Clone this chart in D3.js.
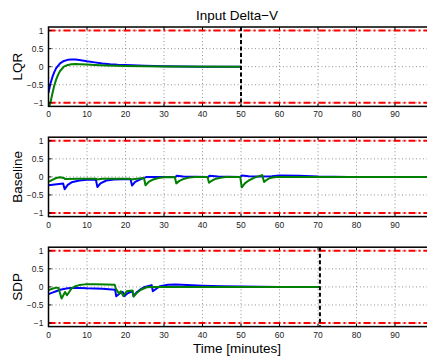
<!DOCTYPE html>
<html><head><meta charset="utf-8">
<script src="https://cdn.jsdelivr.net/npm/d3@7"></script>
<style>body{margin:0;background:#fff}svg{display:block;font-family:"Liberation Sans",Arial,sans-serif}</style>
</head><body>
<script>
// ---- data ----
const panelNames = ["LQR", "Baseline", "SDP"];
const xTicks = [0,10,20,30,40,50,60,70,80,90];
const yTicks = [-1,-0.5,0,0.5,1];
const yTickLabels = ["\u22121","\u22120.5","0","0.5","1"];
const limitValues = [-1, 1];
const endTimes = [50, null, 70.5];

const lqrBlueT = [0,0.5,1,1.5,2,3,4,5,6,7,8,10,12,14,16,18,20,25,30,35,40,50];
const lqrBlueV = [-0.72,-0.47,-0.29,-0.15,-0.04,0.09,0.16,0.19,0.2,0.2,0.185,0.15,0.12,0.09,0.07,0.055,0.045,0.025,0.012,0.005,0,0];
const lqrGreenT = [0,0.5,1,1.5,2,2.5,3,4,5,6,7,8,10,12,15,20,25,30,50];
const lqrGreenV = [-1.15,-1.0,-0.75,-0.52,-0.35,-0.22,-0.12,0.0,0.05,0.07,0.075,0.07,0.06,0.05,0.035,0.02,0.01,0.005,0];

const baseBlueT = [0,3.8,4.2,5,6,8,10,12.3,12.7,13.5,15,17,21.3,21.7,22.5,24,25.5,30,33,33.3,35,41.5,41.8,44,49.8,50.2,52,55,58,60,65,70,78,100];
const baseBlueV = [-0.23,-0.18,-0.34,-0.22,-0.15,-0.1,-0.08,-0.07,-0.28,-0.18,-0.1,-0.07,-0.06,-0.24,-0.14,-0.06,0,0,0,0.03,0.01,0,0.03,0.01,0,0.04,0.02,0.01,0.02,0.04,0.03,0.01,0,0];
const baseGreenT = [0,1,2,3,4,4.3,8,12.3,12.6,14,21,21.5,23,24.8,25.2,26,27,28.5,30,32.8,33.2,34,35,36.5,38,41.3,41.7,42.5,43.5,45,46,49.8,50.2,51,52,53.5,55.5,56,56.7,57.5,59,100];
const baseGreenV = [-0.14,-0.08,-0.03,-0.01,-0.03,-0.06,-0.05,-0.05,-0.07,-0.05,-0.05,-0.07,-0.05,-0.03,-0.23,-0.14,-0.08,-0.03,-0.01,0,-0.18,-0.11,-0.06,-0.02,0,0,-0.16,-0.1,-0.05,-0.02,0,0,-0.29,-0.18,-0.1,-0.02,0.05,-0.14,-0.08,-0.03,0,0];

const sdpBlueT = [0,1,2,3,4,5,6,8,10,14,17.3,17.6,18.5,19.3,19.6,20.5,21.8,22.1,23,24,25,26.8,27.1,28,29,31,33,36,40,45,50,60,70.5];
const sdpBlueV = [-0.2,-0.16,-0.12,-0.08,-0.06,-0.04,-0.03,-0.03,-0.04,-0.05,-0.08,-0.26,-0.18,-0.14,-0.26,-0.18,-0.12,-0.25,-0.14,-0.06,0,0.05,-0.12,-0.05,0.02,0.06,0.065,0.05,0.035,0.02,0.01,0,0];
const sdpGreenT = [0,1,2,2.6,3.4,4.3,4.8,5.5,6,7,8,9.5,12,15,17.2,17.5,18.3,18.8,19.4,20.3,21.8,22.1,23,24,25.5,27,30,40,70.5];
const sdpGreenV = [-0.09,-0.05,-0.02,-0.03,-0.32,-0.14,-0.23,-0.12,-0.04,0.02,0.05,0.07,0.07,0.065,0.06,-0.05,-0.18,-0.12,-0.25,-0.12,-0.1,-0.27,-0.16,-0.08,-0.01,0,0,0,0];

const series = [
  [[lqrBlueT, lqrBlueV, "#0000ff"], [lqrGreenT, lqrGreenV, "#007f00"]],
  [[baseBlueT, baseBlueV, "#0000ff"], [baseGreenT, baseGreenV, "#007f00"]],
  [[sdpBlueT, sdpBlueV, "#0000ff"], [sdpGreenT, sdpGreenV, "#007f00"]]
];

// ---- layout ----
const W = 427, H = 358;
const left = 48.5, plotW = 385;
const tops = [27, 137.2, 247.2], ph = 79.4;
const svg = d3.select("body").append("svg").attr("width", W).attr("height", H);
const x = d3.scaleLinear().domain([0,100]).range([left, left+plotW]);

svg.append("text").attr("x", 237).attr("y", 20).attr("text-anchor","middle")
  .attr("font-size", 13.5).attr("fill","#000").text("Input Delta\u2212V");

panelNames.forEach((name, i) => {
  const top = tops[i];
  const y = d3.scaleLinear().domain([-1.1,1.1]).range([top+ph, top]);
  const clipId = "clip"+i;
  svg.append("clipPath").attr("id", clipId).append("rect")
    .attr("x", left).attr("y", top).attr("width", plotW).attr("height", ph);
  const g = svg.append("g");
  const pg = g.append("g").attr("clip-path", `url(#${clipId})`);
  // grid
  xTicks.filter(t => t>0).forEach(t => {
    pg.append("line").attr("x1", x(t)).attr("x2", x(t)).attr("y1", top).attr("y2", top+ph)
      .attr("stroke", "#777").attr("stroke-width", 0.8).attr("stroke-dasharray", "1,2.5");
  });
  yTicks.forEach(t => {
    pg.append("line").attr("x1", left).attr("x2", left+plotW).attr("y1", y(t)).attr("y2", y(t))
      .attr("stroke", "#777").attr("stroke-width", 0.8).attr("stroke-dasharray", "1,2.5");
  });
  // limit lines
  limitValues.forEach(v => {
    pg.append("line").attr("x1", left).attr("x2", left+plotW).attr("y1", y(v)).attr("y2", y(v))
      .attr("stroke", "#ff0000").attr("stroke-width", 2).attr("stroke-dasharray", "7,3,2,3");
  });
  // data
  const line = d3.line().x(d => x(d[0])).y(d => y(d[1]));
  series[i].forEach(([ts, vs, col]) => {
    pg.append("path").datum(ts.map((t,k) => [t, vs[k]]))
      .attr("d", line).attr("fill","none").attr("stroke", col).attr("stroke-width", 2)
      .attr("stroke-linejoin","round");
  });
  // end line
  if (endTimes[i] !== null) {
    pg.append("line").attr("x1", x(endTimes[i])).attr("x2", x(endTimes[i]))
      .attr("y1", top).attr("y2", top+ph)
      .attr("stroke", "#000").attr("stroke-width", 2).attr("stroke-dasharray", "4,2.5");
  }
  // box
  g.append("rect").attr("x", left).attr("y", top).attr("width", plotW).attr("height", ph)
    .attr("fill","none").attr("stroke","#000").attr("stroke-width", 1.5);
  // ticks
  xTicks.forEach(t => {
    g.append("line").attr("x1", x(t)).attr("x2", x(t)).attr("y1", top+ph).attr("y2", top+ph-3)
      .attr("stroke","#000").attr("stroke-width",1);
    g.append("line").attr("x1", x(t)).attr("x2", x(t)).attr("y1", top).attr("y2", top+3)
      .attr("stroke","#000").attr("stroke-width",1);
    g.append("text").attr("x", x(t)).attr("y", top+ph+11).attr("text-anchor","middle")
      .attr("font-size", 8.5).attr("fill","#222").text(String(t));
  });
  yTicks.forEach((t, k) => {
    g.append("line").attr("x1", left).attr("x2", left+3).attr("y1", y(t)).attr("y2", y(t))
      .attr("stroke","#000").attr("stroke-width",1);
    g.append("text").attr("x", left-5).attr("y", y(t)+3).attr("text-anchor","end")
      .attr("font-size", 8.5).attr("fill","#222").text(yTickLabels[k]);
  });
  // y label
  const cy = top + ph/2;
  svg.append("text").attr("transform", `translate(22,${cy}) rotate(-90)`)
    .attr("text-anchor","middle").attr("font-size", 13.5).attr("fill","#000").text(name);
});

svg.append("text").attr("x", 237).attr("y", 353).attr("text-anchor","middle")
  .attr("font-size", 13.5).attr("fill","#000").text("Time [minutes]");
</script>
</body></html>
